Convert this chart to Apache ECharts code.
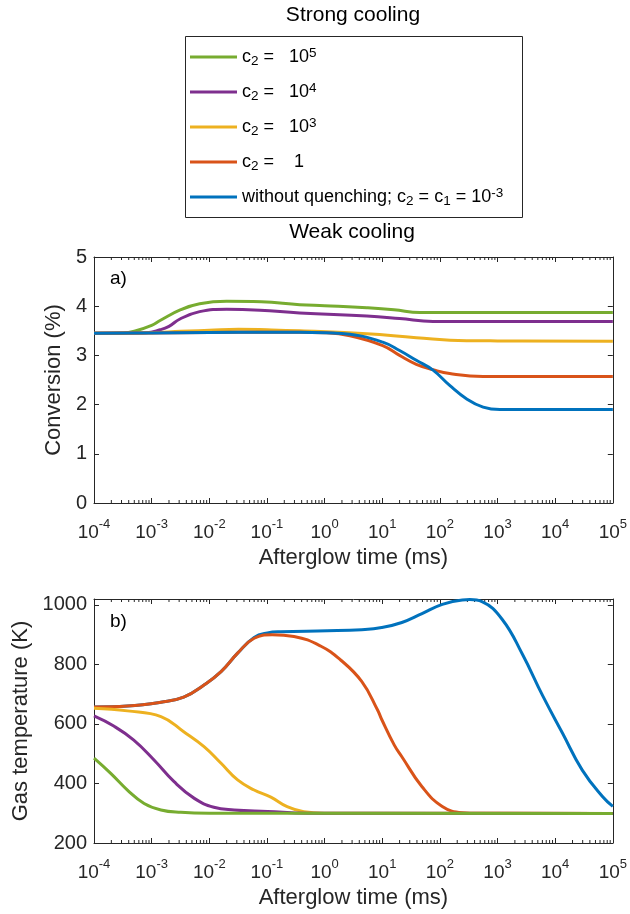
<!DOCTYPE html>
<html>
<head>
<meta charset="utf-8">
<script src="https://cdn.jsdelivr.net/npm/echarts@6/dist/echarts.min.js"></script>
<style>
html,body{margin:0;padding:0;background:#fff;}
#chart{width:630px;height:914px;}
</style>
</head>
<body>
<div id="chart"></div>
<script>
// ---------- data ----------
const seriesNames = ['c2 = 10^5', 'c2 = 10^4', 'c2 = 10^3', 'c2 = 1', 'without quenching'];
const seriesColors = ['#77AC30', '#7E2F8E', '#EDB120', '#D95319', '#0072BD'];
const xTickExponents = [-4, -3, -2, -1, 0, 1, 2, 3, 4, 5];

// a) Conversion (%) — times in ms
const convT_green  = [1e-4, 3.2e-4, 5e-4, 1e-3, 1.4e-3, 3.2e-3, 6.8e-3, 2e-2, 8e-2, 0.37, 1, 5.4, 16, 45, 100, 1e5];
const conv_green   = [3.45, 3.455, 3.49, 3.61, 3.71, 3.93, 4.05, 4.10, 4.09, 4.03, 4.01, 3.97, 3.93, 3.87, 3.87, 3.87];
const convT_purple = [1e-4, 5e-4, 8.1e-4, 1.4e-3, 2e-3, 3.1e-3, 6.8e-3, 2e-2, 7.6e-2, 0.37, 5.4, 20, 76, 1e5];
const conv_purple  = [3.45, 3.455, 3.46, 3.52, 3.59, 3.74, 3.89, 3.94, 3.92, 3.86, 3.80, 3.75, 3.69, 3.69];
const convT_yellow = [1e-4, 1e-3, 3.2e-3, 1e-2, 3.2e-2, 0.1, 0.37, 5.4, 39, 290, 1000, 1e5];
const conv_yellow  = [3.45, 3.46, 3.49, 3.51, 3.53, 3.52, 3.50, 3.44, 3.36, 3.30, 3.295, 3.29];
const convT_red    = [1e-4, 1e-3, 1e-2, 0.1, 0.37, 1, 2.75, 10.2, 20, 39, 76, 148, 562, 1e5];
const conv_red     = [3.45, 3.455, 3.465, 3.47, 3.47, 3.46, 3.40, 3.20, 3.00, 2.82, 2.71, 2.63, 2.57, 2.57];
const convT_blue   = [1e-4, 1e-3, 1e-2, 0.1, 0.37, 1, 2.75, 10.2, 20, 39, 76, 148, 288, 562, 1100, 1e5];
const conv_blue    = [3.45, 3.455, 3.465, 3.47, 3.47, 3.46, 3.43, 3.27, 3.10, 2.90, 2.70, 2.39, 2.12, 1.95, 1.90, 1.90];

// b) Gas temperature (K)
const tempT_blue   = [1e-4, 3.8e-4, 1.45e-3, 3.6e-3, 8.1e-3, 1.6e-2, 3.1e-2, 6e-2, 0.102, 0.174, 1.12, 4.4, 9.8, 21.9, 49, 110, 245, 331, 537, 1200, 2690, 6030, 13500, 29500, 66100, 1e5];
const temp_blue    = [657, 660, 673, 690, 731, 776, 838, 891, 906, 910, 913, 917, 924, 941, 971, 1002, 1017, 1018, 1011, 952, 835, 696, 568, 445, 356, 323];
const tempT_red    = [1e-4, 3.8e-4, 1.45e-3, 3.6e-3, 8.1e-3, 1.6e-2, 3.1e-2, 6e-2, 0.123, 0.295, 0.85, 1.9, 4.4, 8.3, 9.8, 16.2, 21.9, 49, 110, 245, 500, 1e5];
const temp_red     = [657, 660, 673, 690, 731, 776, 838, 888, 900, 894, 862, 815, 743, 647, 615, 529, 490, 389, 323, 302, 300, 299];
const tempT_yellow = [1e-4, 3.8e-4, 1.45e-3, 3.6e-3, 8.1e-3, 1.6e-2, 3.1e-2, 6e-2, 0.117, 0.224, 0.436, 1, 1e5];
const temp_yellow  = [653, 644, 625, 574, 524, 468, 412, 378, 354, 322, 305, 300, 299];
const tempT_purple = [1e-4, 2.2e-4, 4.9e-4, 1.1e-3, 2.45e-3, 5.5e-3, 1.2e-2, 2.7e-2, 0.102, 0.5, 1e5];
const temp_purple  = [627, 593, 546, 479, 406, 350, 320, 311, 306, 300, 299];
const tempT_green  = [1e-4, 1.95e-4, 3.8e-4, 7.4e-4, 1.45e-3, 3.2e-3, 1e-2, 1e5];
const temp_green   = [485, 434, 378, 333, 311, 303, 300, 299];

// ---------- helpers ----------
const FONT = 'Liberation Sans';
const AX = '#262626';
const XMIN = xTickExponents[0], XMAX = xTickExponents[xTickExponents.length - 1];
// x axis is a value axis in decades (log10 of the afterglow time)
const pairs = (ts, ys) => ts.map((t, i) => [Math.log10(t), ys[i]]);
const minorTickValues = [];
for (let e = XMIN; e < XMAX; e++) for (let m = 2; m <= 9; m++) minorTickValues.push(e + Math.log10(m));

const legendLabels = {
  'c2 = 10^5': 'c{sub|2} =   10{sup|5}',
  'c2 = 10^4': 'c{sub|2} =   10{sup|4}',
  'c2 = 10^3': 'c{sub|2} =   10{sup|3}',
  'c2 = 1': 'c{sub|2} =    1',
  'without quenching': 'without quenching; c{sub|2} = c{sub|1} = 10{sup|-3}'
};

function xAxisDef(gi, top) {
  return {
    gridIndex: gi, type: 'value', min: XMIN, max: XMAX, interval: 1,
    position: top ? 'top' : 'bottom',
    axisLine: { show: true, onZero: false, lineStyle: { color: AX, width: 1 } },
    axisTick: { show: true, inside: true, length: 5, lineStyle: { color: AX } },
    splitLine: { show: false }, minorTick: { show: false },
    axisLabel: top ? { show: false } : {
      margin: 15, color: AX,
      formatter: v => '{b|10}{s|' + Math.round(v) + '}',
      rich: {
        b: { fontSize: 19, fontFamily: FONT, color: AX, lineHeight: 24, verticalAlign: 'bottom' },
        s: { fontSize: 13, fontFamily: FONT, color: AX, lineHeight: 13, verticalAlign: 'top' }
      }
    },
    name: top ? '' : 'Afterglow time (ms)', nameLocation: 'middle', nameGap: 44,
    nameTextStyle: { fontSize: 22, fontFamily: FONT, color: AX }
  };
}
function yAxisDef(gi, right, min, max, interval, name, gap) {
  return {
    gridIndex: gi, type: 'value', min: min, max: max, interval: interval,
    position: right ? 'right' : 'left',
    axisLine: { show: true, onZero: false, lineStyle: { color: AX, width: 1 } },
    axisTick: { show: true, inside: true, length: 5, lineStyle: { color: AX } },
    splitLine: { show: false },
    axisLabel: right ? { show: false } : {
      margin: 7, fontSize: 20, fontFamily: FONT, color: AX,
      formatter: v => (Math.abs((v - min) % interval) < 1e-9 ? String(v) : '')
    },
    name: right ? '' : name, nameLocation: 'middle', nameGap: gap,
    nameTextStyle: { fontSize: 22, fontFamily: FONT, color: AX }
  };
}
function lineSeries(name, color, data, xi, yi) {
  return {
    type: 'line', name: name, data: data, xAxisIndex: xi, yAxisIndex: yi,
    showSymbol: false, symbol: 'none', smooth: 0.45,
    lineStyle: { color: color, width: 3 }, itemStyle: { color: color },
    silent: true, animation: false
  };
}
function minorSeries(xi, yi, yRef) {
  return {
    type: 'custom', xAxisIndex: xi, yAxisIndex: yi, silent: true, animation: false,
    data: minorTickValues.map(v => [v, yRef]),
    clip: false,
    renderItem: (params, api) => {
      const x = api.coord([api.value(0), yRef])[0];
      const cs = params.coordSys;
      const b = cs.y + cs.height, t = cs.y;
      return { type: 'group', children: [
        { type: 'line', shape: { x1: x, y1: b, x2: x, y2: b - 3 }, style: { stroke: AX, lineWidth: 1 } },
        { type: 'line', shape: { x1: x, y1: t, x2: x, y2: t + 3 }, style: { stroke: AX, lineWidth: 1 } }
      ] };
    }
  };
}

const convX = [convT_green, convT_purple, convT_yellow, convT_red, convT_blue];
const convY = [conv_green, conv_purple, conv_yellow, conv_red, conv_blue];
const tempX = [tempT_green, tempT_purple, tempT_yellow, tempT_red, tempT_blue];
const tempY = [temp_green, temp_purple, temp_yellow, temp_red, temp_blue];

const series = [];
for (let i = 0; i < 5; i++) series.push(lineSeries(seriesNames[i], seriesColors[i], pairs(convX[i], convY[i]), 0, 0));
for (let i = 4; i >= 0; i--) series.push(lineSeries(seriesNames[i], seriesColors[i], pairs(tempX[i], tempY[i]), 2, 2));
series.push(minorSeries(0, 0, 0));
series.push(minorSeries(2, 2, 200));

const option = {
  backgroundColor: '#fff',
  animation: false,
  color: seriesColors,
  grid: [
    { left: 94, top: 257, width: 519, height: 246 },
    { left: 94, top: 599, width: 519, height: 244 }
  ],
  xAxis: [xAxisDef(0, false), xAxisDef(0, true), xAxisDef(1, false), xAxisDef(1, true)],
  yAxis: [
    yAxisDef(0, false, 0, 5, 1, 'Conversion (%)', 22),
    yAxisDef(0, true, 0, 5, 1, '', 0),
    yAxisDef(1, false, 200, 1020, 200, 'Gas temperature (K)', 60),
    yAxisDef(1, true, 200, 1020, 200, '', 0)
  ],
  legend: {
    orient: 'vertical', left: 190, top: 46, itemWidth: 47, itemHeight: 3, itemGap: 13,
    icon: 'rect', selectedMode: false, padding: 0,
    data: seriesNames,
    formatter: name => legendLabels[name],
    textStyle: {
      fontSize: 18, fontFamily: FONT, color: '#000', lineHeight: 22,
      rich: {
        sub: { fontSize: 13.5, fontFamily: FONT, color: '#000', lineHeight: 13, verticalAlign: 'bottom' },
        sup: { fontSize: 13.5, fontFamily: FONT, color: '#000', lineHeight: 13, verticalAlign: 'top' }
      }
    }
  },
  graphic: [
    { type: 'rect', z: 0, shape: { x: 185.5, y: 36.5, width: 337, height: 181 },
      style: { fill: 'none', stroke: AX, lineWidth: 1 }, silent: true },
    { type: 'text', x: 353, y: 15, style: { text: 'Strong cooling', font: '21px "Liberation Sans"', fill: '#000',
      textAlign: 'center', textVerticalAlign: 'middle', align: 'center', verticalAlign: 'middle' }, silent: true },
    { type: 'text', x: 352, y: 232, style: { text: 'Weak cooling', font: '21px "Liberation Sans"', fill: '#000',
      textAlign: 'center', textVerticalAlign: 'middle', align: 'center', verticalAlign: 'middle' }, silent: true },
    { type: 'text', x: 110, y: 279, style: { text: 'a)', font: '19px "Liberation Sans"', fill: '#000',
      textAlign: 'left', textVerticalAlign: 'middle', align: 'left', verticalAlign: 'middle' }, silent: true },
    { type: 'text', x: 110, y: 622, style: { text: 'b)', font: '19px "Liberation Sans"', fill: '#000',
      textAlign: 'left', textVerticalAlign: 'middle', align: 'left', verticalAlign: 'middle' }, silent: true }
  ],
  series: series
};

const chart = echarts.init(document.getElementById('chart'), null, { renderer: 'canvas' });
chart.setOption(option);
</script>
</body>
</html>
